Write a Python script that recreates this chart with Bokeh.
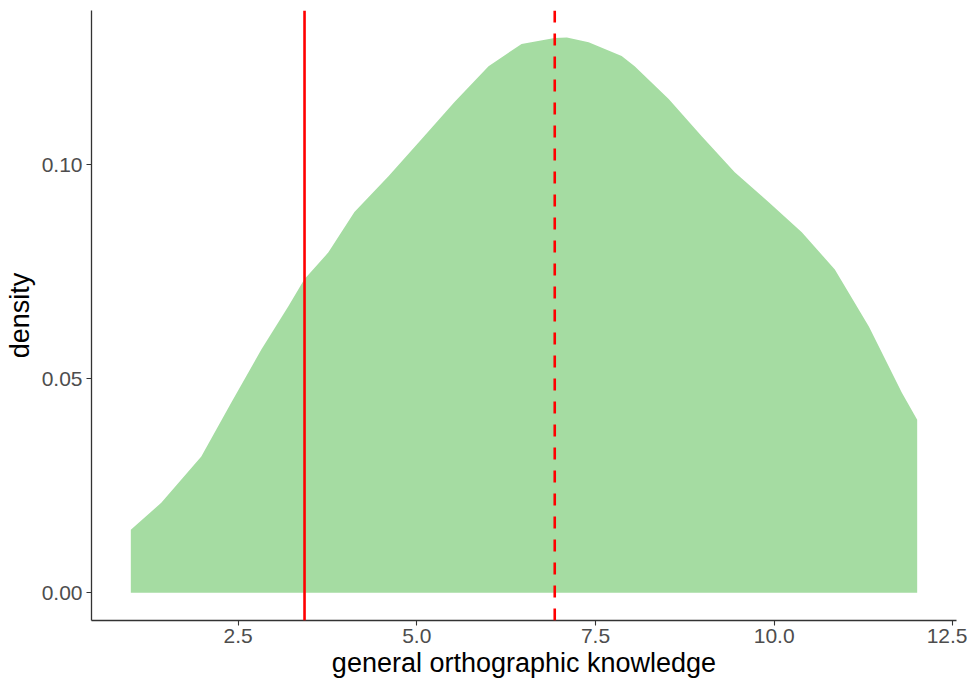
from bokeh.plotting import figure
from bokeh.models import Span, Range1d, FixedTicker, CustomJSTickFormatter
from bokeh.embed import file_html
from bokeh.resources import INLINE

# density curve of general orthographic knowledge
knowledge = [1.0, 1.426, 1.986, 2.406, 2.826, 3.204, 3.428, 3.764, 4.128, 4.604, 5.066, 5.528,
             6.004, 6.466, 6.928, 7.1, 7.404, 7.866, 8.048, 8.524, 8.986, 9.448, 9.924, 10.386,
             10.848, 11.324, 11.786, 12.0]
density = [0.0147, 0.0210, 0.0318, 0.0444, 0.0568, 0.0669, 0.0732, 0.0795, 0.0889, 0.0973, 0.1059, 0.1146,
           0.1230, 0.1282, 0.1296, 0.1297, 0.1286, 0.1254, 0.1230, 0.1153, 0.1066, 0.0982, 0.0912, 0.0842,
           0.0755, 0.0622, 0.0467, 0.0404]
baseline = [0.0] * len(knowledge)

solid_line_x = 3.43
dashed_line_x = 6.93

x_ticks = [2.5, 5.0, 7.5, 10.0, 12.5]
y_ticks = [0.00, 0.05, 0.10]

FONT = "Liberation Sans"

p = figure(
    width=967, height=681,
    frame_width=865, frame_height=610,
    min_border_left=91, min_border_right=11, min_border_top=10, min_border_bottom=61,
    output_backend="svg", toolbar_location=None,
    x_range=Range1d(0.45, 12.55), y_range=Range1d(-0.0065, 0.136),
)
p.outline_line_color = None
p.xgrid.visible = False
p.ygrid.visible = False
p.background_fill_color = "white"
p.border_fill_color = "white"

p.varea(x=knowledge, y1=baseline, y2=density, fill_color="#a5dca2", fill_alpha=1.0)

p.add_layout(Span(location=solid_line_x, dimension="height", line_color="#ff0000", line_width=2.6))
p.add_layout(Span(location=dashed_line_x, dimension="height", line_color="#ff0000", line_width=2.6, line_dash="12 11"))

for ax in (p.xaxis[0], p.yaxis[0]):
    ax.axis_line_color = "#333333"
    ax.axis_line_width = 1.3
    ax.major_tick_line_color = "#333333"
    ax.major_tick_line_width = 1.1
    ax.major_tick_out = 5
    ax.major_tick_in = 0
    ax.minor_tick_line_color = None
    ax.major_label_text_font = FONT
    ax.major_label_text_font_size = "21px"
    ax.major_label_text_color = "#4d4d4d"
    ax.axis_label_text_font = FONT
    ax.axis_label_text_font_size = "27px"
    ax.axis_label_text_font_style = "normal"
    ax.axis_label_text_color = "#000000"

p.xaxis[0].ticker = FixedTicker(ticks=x_ticks)
p.yaxis[0].ticker = FixedTicker(ticks=y_ticks)
p.xaxis[0].formatter = CustomJSTickFormatter(code="return tick.toFixed(1);")
p.yaxis[0].formatter = CustomJSTickFormatter(code="return tick.toFixed(2);")
p.xaxis[0].axis_label = "general orthographic knowledge"
p.yaxis[0].axis_label = "density"
p.xaxis[0].major_label_standoff = 3
p.yaxis[0].major_label_standoff = 4
p.xaxis[0].axis_label_standoff = 2
p.yaxis[0].axis_label_standoff = 4

open("out.html", "w").write(file_html(p, INLINE))
